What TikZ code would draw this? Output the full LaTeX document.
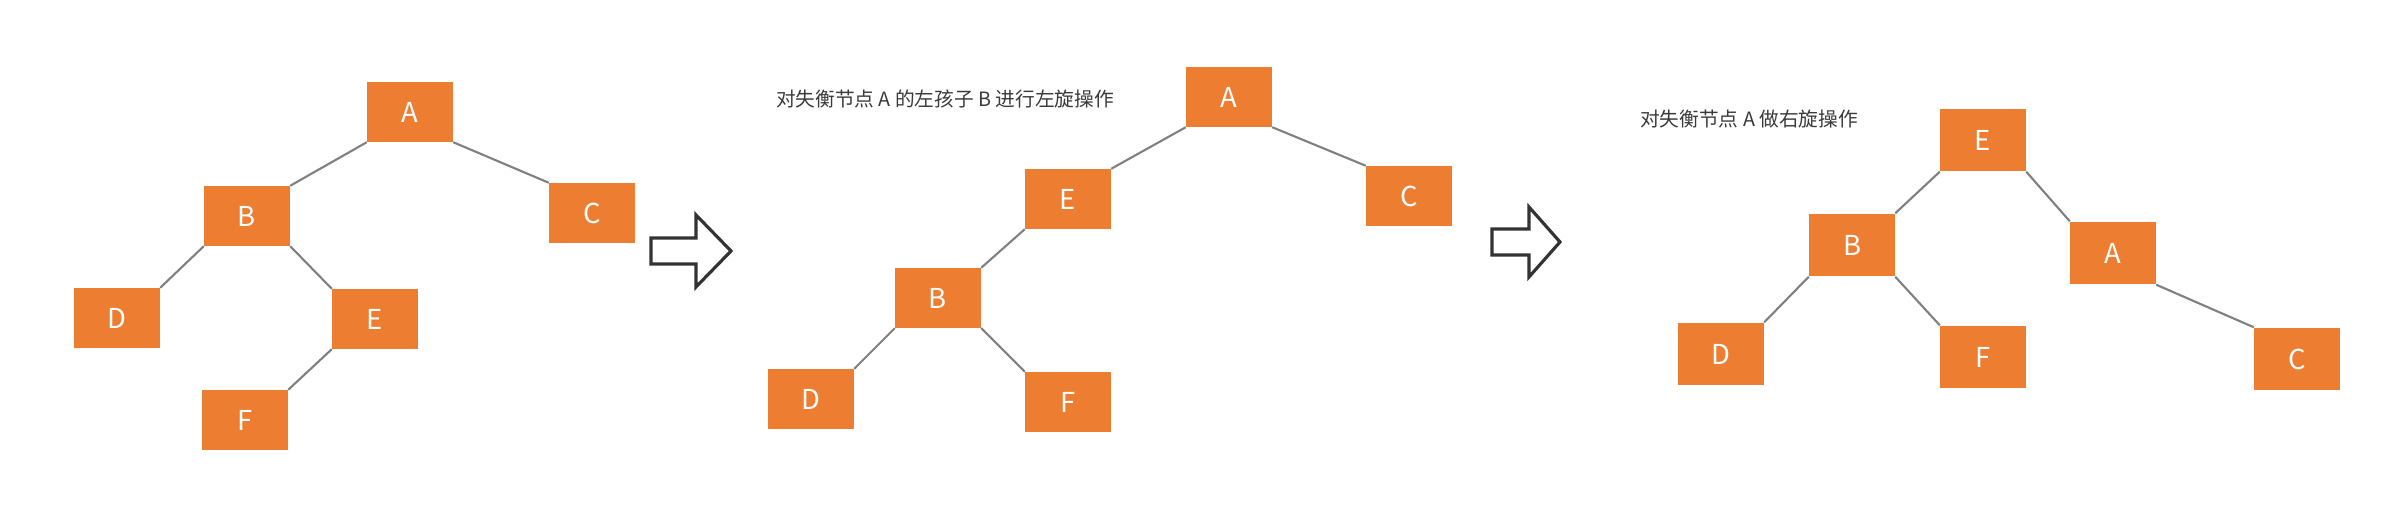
\documentclass[tikz,border=0pt]{standalone}
\usepackage{fontspec}
\setmainfont{Noto Sans CJK SC}
\usepackage{tikz}

\definecolor{nodeorange}{HTML}{ED7D31}
\definecolor{linkgray}{HTML}{808080}
\definecolor{arrowgray}{HTML}{333333}
\definecolor{notegray}{HTML}{3A3A3A}

\begin{document}
\begin{tikzpicture}[x=0.01cm, y=-0.01cm,
  box/.style = {shape=rectangle, fill=nodeorange, text=white, inner sep=0pt,
    minimum width=0.85cm, minimum height=0.59cm, font=\fontsize{7.8}{9}\selectfont},
  tallbox/.style = {box, minimum height=0.62cm},
  link/.style = {draw=linkgray, line width=0.6pt},
  trans/.style = {draw=arrowgray, fill=white, line width=0.9pt},
  note/.style = {text=notegray, inner sep=0pt, font=\fontsize{5.6}{7}\selectfont}]
  \useasboundingbox (0,0) rectangle (2402,510);

  % unbalanced tree
  \node[box] (a1) at (410,112) {A};
  \node[box] (b1) at (247,216) {B};
  \node[box] (c1) at (592,213) {C};
  \node[box] (d1) at (117,318) {D};
  \node[box] (e1) at (375,319) {E};
  \node[box] (f1) at (245,420) {F};
  \draw[link] (a1.south west) -- (b1.north east);
  \draw[link] (a1.south east) -- (c1.north west);
  \draw[link] (b1.south west) -- (d1.north east);
  \draw[link] (b1.south east) -- (e1.north west);
  \draw[link] (e1.south west) -- (f1.north east);

  \draw[trans] (651,238) -- ++(45,0) -- ++(0,-23) -- ++(35,36) -- ++(-35,36)
    -- ++(0,-23) -- ++(-45,0) -- cycle;

  % after left rotation of B
  \node[note] (note2) at (945,99) {对失衡节点 A 的左孩子 B 进行左旋操作};
  \node[box] (a2) at (1229,97) {A};
  \node[box] (e2) at (1068,199) {E};
  \node[box] (c2) at (1409,196) {C};
  \node[box] (b2) at (938,298) {B};
  \node[box] (d2) at (811,399) {D};
  \node[box] (f2) at (1068,402) {F};
  \draw[link] (a2.south west) -- (e2.north east);
  \draw[link] (a2.south east) -- (c2.north west);
  \draw[link] (e2.south west) -- (b2.north east);
  \draw[link] (b2.south west) -- (d2.north east);
  \draw[link] (b2.south east) -- (f2.north west);

  \draw[trans] (1492,229) -- ++(37,0) -- ++(0,-22) -- ++(31,35) -- ++(-31,35)
    -- ++(0,-22) -- ++(-37,0) -- cycle;

  % after right rotation of A
  \node[note] (note3) at (1749,119) {对失衡节点 A 做右旋操作};
  \node[tallbox] (e3) at (1983,140) {E};
  \node[tallbox] (b3) at (1852,245) {B};
  \node[tallbox] (a3) at (2113,253) {A};
  \node[tallbox] (d3) at (1721,354) {D};
  \node[tallbox] (f3) at (1983,357) {F};
  \node[tallbox] (c3) at (2297,359) {C};
  \draw[link] (e3.south west) -- (b3.north east);
  \draw[link] (e3.south east) -- (a3.north west);
  \draw[link] (b3.south west) -- (d3.north east);
  \draw[link] (b3.south east) -- (f3.north west);
  \draw[link] (a3.south east) -- (c3.north west);
\end{tikzpicture}
\end{document}
